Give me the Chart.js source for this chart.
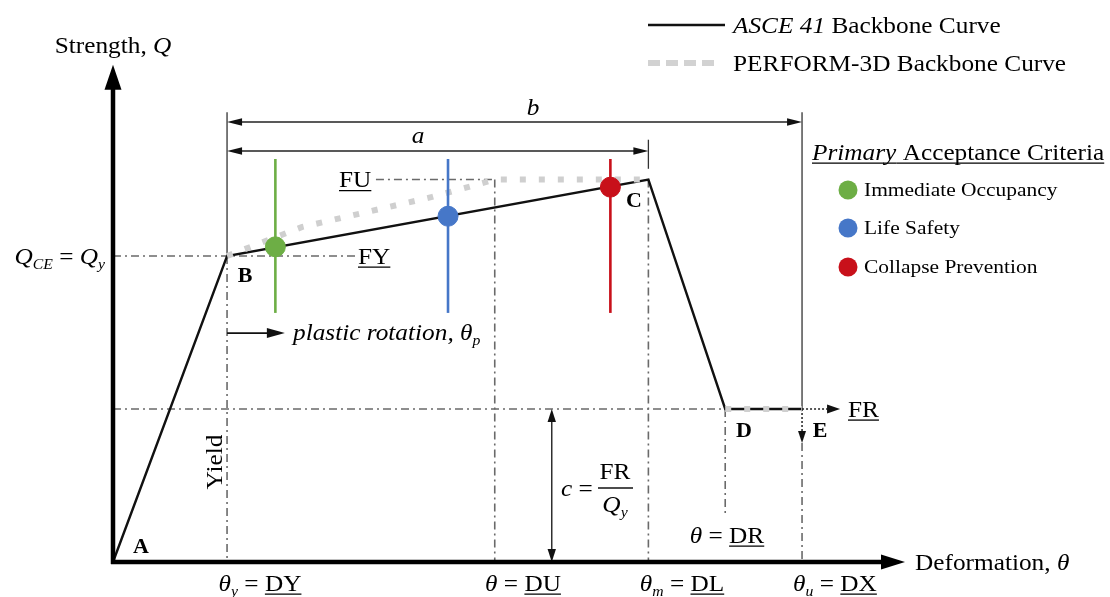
<!DOCTYPE html>
<html><head><meta charset="utf-8">
<script src="https://cdn.jsdelivr.net/npm/chart.js@4/dist/chart.umd.min.js"></script>
<style>html,body{margin:0;padding:0;background:#fff;overflow:hidden}canvas{display:block}</style>
</head><body>
<canvas id="c" width="1110" height="597"></canvas>
<script>
// ---- Data (deformation θ in arbitrary units, strength as Q/Qy) ----
const pointNames  = ['A', 'B', 'C', 'D', 'E'];
const asceTheta   = [0, 14.4, 67.6, 77.3, 87.0];
const asceQ       = [0, 1.0, 1.25, 0.5, 0.5];
const perfTheta   = [14.4, 23.9, 40.3, 44.8, 48.2, 67.6, 77.3, 87.0];
const perfQ       = [1.0, 1.095, 1.193, 1.225, 1.25, 1.25, 0.5, 0.5];
const criteriaNames  = ['Immediate Occupancy', 'Life Safety', 'Collapse Prevention'];
const criteriaTheta  = [20.5, 42.3, 62.8];
const criteriaQ      = [1.03, 1.13, 1.225];
const criteriaLow    = [0.814, 0.814, 0.814];
const criteriaHigh   = [1.317, 1.317, 1.317];
const criteriaColors = ['#6DAE45', '#4677C8', '#C8101A'];
// key deformations / strengths
const thetaY = 14.4, thetaDU = 48.2, thetaM = 67.6, thetaDR = 77.3, thetaDX = 87.0;
const Qy = 1.0, FU = 1.25, FR = 0.5;
const xMax = 100, yMax = 1.625;

const FONT = '"Liberation Serif","Times New Roman",serif';
const SX = 1.1;
function rich(ctx, runs, x, y, align, size, color) {
  size = size || 23;
  ctx.save();
  ctx.fillStyle = color || '#000'; ctx.strokeStyle = color || '#000';
  const parts = runs.map(r => {
    const fs = r.sub ? size * 0.62 : size;
    const font = (r.i ? 'italic ' : '') + (r.b ? 'bold ' : '') + fs.toFixed(1) + 'px ' + FONT;
    ctx.font = font;
    return { r, font, w: ctx.measureText(r.t).width };
  });
  const total = parts.reduce((s, p) => s + p.w, 0);
  ctx.translate(x, y);
  ctx.scale(SX, 1);
  let cx = align === 'center' ? -total / 2 : align === 'right' ? -total : 0;
  const base = size * 0.33;
  ctx.textBaseline = 'alphabetic'; ctx.textAlign = 'left';
  parts.forEach(p => {
    ctx.font = p.font;
    const dy = p.r.sub ? size * 0.22 : 0;
    ctx.fillText(p.r.t, cx, base + dy);
    if (p.r.u) { ctx.lineWidth = 1.3; ctx.beginPath(); ctx.moveTo(cx, base + 3.5); ctx.lineTo(cx + p.w, base + 3.5); ctx.stroke(); }
    cx += p.w;
  });
  ctx.restore();
}
function head(ctx, x, y, ang, len, hw, color) {
  ctx.save(); ctx.fillStyle = color || '#111'; ctx.translate(x, y); ctx.rotate(ang);
  ctx.beginPath(); ctx.moveTo(0, 0); ctx.lineTo(-len, -hw); ctx.lineTo(-len, hw); ctx.closePath(); ctx.fill(); ctx.restore();
}
function seg(ctx, x1, y1, x2, y2, dash, color, w) {
  ctx.save(); ctx.strokeStyle = color || '#6a6a6a'; ctx.lineWidth = w || 1.6; ctx.setLineDash(dash || []);
  ctx.beginPath(); ctx.moveTo(x1, y1); ctx.lineTo(x2, y2); ctx.stroke(); ctx.restore();
}
const DD = [8, 4, 2, 4];
const R = Math.PI, UP = -Math.PI / 2, DOWN = Math.PI / 2;

const annot = {
  id: 'annot',
  beforeDatasetsDraw(chart) {
    const ctx = chart.ctx, xs = chart.scales.x, ys = chart.scales.y;
    const px = v => xs.getPixelForValue(v), py = v => ys.getPixelForValue(v);
    // reference lines
    seg(ctx, px(0), py(Qy), px(30.6), py(Qy), DD);
    seg(ctx, px(33.2), py(FU), px(thetaDU), py(FU), DD);
    seg(ctx, px(0), py(FR), px(thetaDR), py(FR), DD);
    seg(ctx, px(thetaY), py(1.47), px(thetaY), py(Qy), [], '#333', 1.3);
    seg(ctx, px(thetaY), py(Qy), px(thetaY), py(0), DD);
    seg(ctx, px(thetaDU), py(FU), px(thetaDU), py(0), DD);
    seg(ctx, px(thetaM), py(1.38), px(thetaM), py(1.285), [], '#333', 1.3);
    seg(ctx, px(thetaM), py(FU), px(thetaM), py(0), DD);
    seg(ctx, px(thetaDX), py(1.47), px(thetaDX), py(FR), [], '#333', 1.3);
    seg(ctx, px(thetaDX), py(FR), px(thetaDX), py(0.42), [2, 2], '#222', 1.5);
    head(ctx, px(thetaDX), py(0.389), DOWN, 12, 4);
    seg(ctx, px(thetaDX), py(0.389), px(thetaDX), py(0), DD);
    seg(ctx, px(thetaDR), py(FR), px(thetaDR), py(0.147), DD);
    // FR extension arrow
    seg(ctx, px(thetaDX), py(FR), px(90.2), py(FR), [2, 2], '#222', 1.5);
    head(ctx, px(91.8), py(FR), 0, 13, 4.5);
    // dimension a and b
    const aY = 1.343, bY = 1.438;
    seg(ctx, px(thetaY) + 4, py(aY), px(thetaM) - 4, py(aY), [], '#222', 1.4);
    head(ctx, px(thetaY), py(aY), R, 15, 3.8); head(ctx, px(thetaM), py(aY), 0, 15, 3.8);
    seg(ctx, px(thetaY) + 4, py(bY), px(thetaDX) - 4, py(bY), [], '#222', 1.4);
    head(ctx, px(thetaY), py(bY), R, 15, 3.8); head(ctx, px(thetaDX), py(bY), 0, 15, 3.8);
    // plastic rotation arrow
    seg(ctx, px(thetaY), py(0.748), px(20.5), py(0.748), [], '#111', 1.6);
    head(ctx, px(21.7), py(0.748), 0, 18, 5);
    // c arrow
    seg(ctx, px(55.4), py(FR) + 8, px(55.4), py(0) - 8, [], '#222', 1.4);
    head(ctx, px(55.4), py(FR), UP, 13, 4.2); head(ctx, px(55.4), py(0), DOWN, 13, 4.2);
  },
  afterDatasetsDraw(chart) {
    const ctx = chart.ctx, xs = chart.scales.x, ys = chart.scales.y;
    const px = v => xs.getPixelForValue(v), py = v => ys.getPixelForValue(v);
    // axes
    seg(ctx, px(0), py(0) + 2, px(0), py(yMax) + 20, [], '#000', 4.5);
    head(ctx, px(0), py(yMax), UP, 25, 8.5, '#000');
    seg(ctx, px(0) - 2, py(0), px(xMax) - 20, py(0), [], '#000', 4.5);
    head(ctx, px(xMax), py(0), 0, 24, 7.5, '#000');
  },
  afterDraw(chart) {
    const ctx = chart.ctx, xs = chart.scales.x, ys = chart.scales.y;
    const px = v => xs.getPixelForValue(v), py = v => ys.getPixelForValue(v);
    // axis titles
    rich(ctx, [{ t: 'Strength, ' }, { t: 'Q', i: 1 }], px(0), 45, 'center');
    rich(ctx, [{ t: 'Deformation, ' }, { t: 'θ', i: 1 }], 915, py(0), 'left');
    rich(ctx, [{ t: 'Q', i: 1 }, { t: 'CE', i: 1, sub: 1 }, { t: ' = ' }, { t: 'Q', i: 1 }, { t: 'y', i: 1, sub: 1 }], 105, py(Qy), 'right');
    rich(ctx, [{ t: 'FY', u: 1 }], 358, py(Qy), 'left');
    rich(ctx, [{ t: 'FU', u: 1 }], 339, py(FU), 'left');
    rich(ctx, [{ t: 'FR', u: 1 }], 848, py(FR), 'left');
    rich(ctx, [{ t: 'b', i: 1 }], 533, 107, 'center');
    rich(ctx, [{ t: 'a', i: 1 }], 418, 135.5, 'center');
    // point letters
    const letterPos = [[141, 546], [245, 275], [634, 200], [744, 430], [820, 430]];
    pointNames.forEach((n, k) => rich(ctx, [{ t: n, b: 1 }], letterPos[k][0], letterPos[k][1], 'center', 20));
    rich(ctx, [{ t: 'plastic rotation, ', i: 1 }, { t: 'θ', i: 1 }, { t: 'p', i: 1, sub: 1 }], 293, 332, 'left');
    // Yield rotated
    ctx.save(); ctx.translate(214.5, 462); ctx.rotate(-Math.PI / 2);
    rich(ctx, [{ t: 'Yield' }], 0, 0, 'center'); ctx.restore();
    // c = FR / Qy
    rich(ctx, [{ t: 'c', i: 1 }, { t: ' =' }], 561, 488, 'left');
    rich(ctx, [{ t: 'FR' }], 615, 471, 'center');
    seg(ctx, 598, 488, 633, 488, [], '#111', 1.3);
    rich(ctx, [{ t: 'Q', i: 1 }, { t: 'y', i: 1, sub: 1 }], 615, 504, 'center');
    rich(ctx, [{ t: 'θ', i: 1 }, { t: ' = ' }, { t: 'DR', u: 1 }], 727, 535, 'center');
    // bottom labels
    const by = 583;
    rich(ctx, [{ t: 'θ', i: 1 }, { t: 'y', i: 1, sub: 1 }, { t: ' = ' }, { t: 'DY', u: 1 }], 260, by, 'center');
    rich(ctx, [{ t: 'θ', i: 1 }, { t: ' = ' }, { t: 'DU', u: 1 }], 523, by, 'center');
    rich(ctx, [{ t: 'θ', i: 1 }, { t: 'm', i: 1, sub: 1 }, { t: ' = ' }, { t: 'DL', u: 1 }], 682, by, 'center');
    rich(ctx, [{ t: 'θ', i: 1 }, { t: 'u', i: 1, sub: 1 }, { t: ' = ' }, { t: 'DX', u: 1 }], 835, by, 'center');
    // legend
    seg(ctx, 648, 25, 725, 25, [], '#111', 2.4);
    rich(ctx, [{ t: 'ASCE 41', i: 1 }, { t: ' Backbone Curve' }], 733, 25, 'left');
    seg(ctx, 648, 63, 716, 63, [12, 6], '#d2d2d2', 6);
    rich(ctx, [{ t: 'PERFORM-3D Backbone Curve' }], 733, 63, 'left');
    rich(ctx, [{ t: 'Primary', i: 1, u: 1 }, { t: ' Acceptance Criteria', u: 1 }], 812, 152, 'left');
    const ly = [190, 228, 267];
    criteriaNames.forEach((n, k) => {
      ctx.save(); ctx.fillStyle = criteriaColors[k]; ctx.beginPath(); ctx.arc(848, ly[k], 9.5, 0, 2 * Math.PI); ctx.fill(); ctx.restore();
      rich(ctx, [{ t: n }], 864, ly[k], 'left', 19.5);
    });
  }
};

const datasets = [
  {
    label: 'PERFORM-3D Backbone Curve',
    data: perfTheta.map((x, k) => ({ x, y: perfQ[k] })),
    showLine: true, borderWidth: 6, borderDash: [6, 13], borderColor: '#cfcfcf', pointRadius: 0,
    segment: { borderColor: c => c.p1.parsed.y < c.p0.parsed.y ? 'rgba(0,0,0,0)' : '#cfcfcf' },
    order: 3
  },
  {
    label: 'ASCE 41 Backbone Curve',
    data: asceTheta.map((x, k) => ({ x, y: asceQ[k] })),
    showLine: true, borderWidth: 2.4, borderColor: '#111', pointRadius: 0, order: 4
  }
];
criteriaNames.forEach((n, k) => {
  datasets.push({
    label: n + ' range',
    data: [{ x: criteriaTheta[k], y: criteriaLow[k] }, { x: criteriaTheta[k], y: criteriaHigh[k] }],
    showLine: true, borderWidth: 2.6, borderColor: criteriaColors[k], pointRadius: 0, order: 2
  });
});
datasets.push({
  label: 'Acceptance criteria',
  data: criteriaTheta.map((x, k) => ({ x, y: criteriaQ[k] })),
  showLine: false, pointRadius: 10, pointBackgroundColor: criteriaColors,
  pointBorderColor: criteriaColors, pointBorderWidth: 1, order: 1
});

new Chart(document.getElementById('c'), {
  type: 'scatter',
  data: { datasets },
  options: {
    responsive: false, animation: false, events: [],
    layout: { padding: { left: 113, right: 205, top: 64.75, bottom: 35 } },
    scales: {
      x: { type: 'linear', min: 0, max: xMax, display: false },
      y: { type: 'linear', min: 0, max: yMax, display: false }
    },
    plugins: { legend: { display: false }, tooltip: { enabled: false } },
    elements: { line: { tension: 0 } },
    clip: false
  },
  plugins: [annot]
});
</script></body></html>
